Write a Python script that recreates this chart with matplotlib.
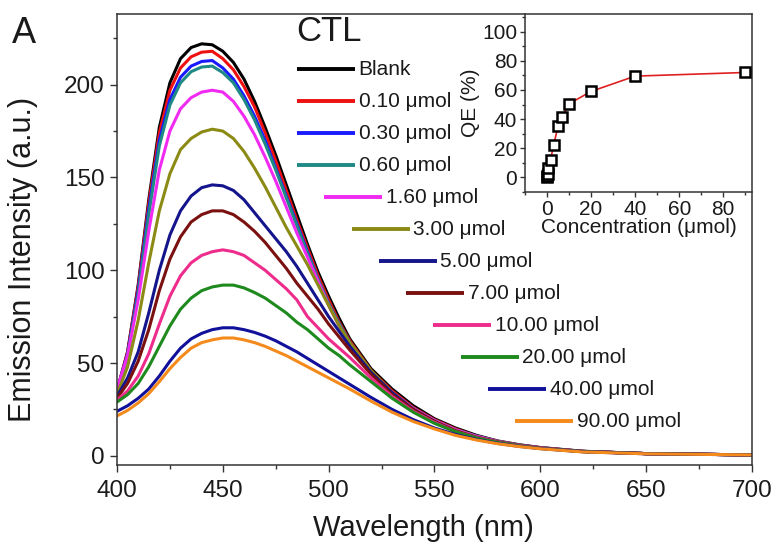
import numpy as np
import matplotlib
matplotlib.use('Agg')
import matplotlib.pyplot as plt
from matplotlib.ticker import MultipleLocator

plt.rcParams['font.family'] = ['Liberation Sans', 'DejaVu Sans']

# emission wavelength grid (nm)
wavelength = [400, 405, 410, 415, 420, 425, 430, 435, 440, 445, 450, 455, 460, 465,
              470, 475, 480, 485, 490, 495, 500, 505, 510, 520, 530, 540, 550, 560,
              570, 580, 590, 600, 620, 650, 700]

# emission intensity (a.u.) of each sample
blank = [35, 56, 92, 138, 177, 201, 214, 220, 222, 221.5, 218, 212, 203, 191,
         177, 162, 146, 130, 114, 99, 86, 74, 63, 47, 36, 27, 20, 15,
         11, 8, 6, 4.5, 2.5, 1.2, 0.5]
c010 = [35, 56, 91, 136, 174, 197, 209, 215, 217.5, 218, 214, 208, 199, 188,
        174, 159, 143, 127, 112, 97, 84, 72, 62, 46, 35, 26, 19.5, 14.5,
        10.5, 7.8, 5.8, 4.4, 2.4, 1.2, 0.5]
c030 = [35, 55, 89, 133, 170, 192, 204, 210, 212.5, 213, 209, 203, 194, 183,
        170, 155, 140, 125, 110, 95, 82, 71, 61, 45, 34, 25.5, 19, 14,
        10.5, 7.7, 5.7, 4.3, 2.4, 1.2, 0.5]
c060 = [34, 54, 87, 130, 167, 189, 201, 207, 209.5, 210, 206.5, 201, 192, 181,
        168, 154, 139, 124, 109, 95, 82, 71, 61, 45, 34, 25.5, 19, 14,
        10.5, 7.7, 5.7, 4.3, 2.4, 1.2, 0.5]
c160 = [36, 54, 84, 121, 154, 175, 187, 193, 196, 197, 196, 191, 183, 173,
        161, 148, 134, 120, 107, 94, 81, 70, 60, 45, 34, 25.5, 19, 14,
        10.5, 7.7, 5.7, 4.3, 2.4, 1.2, 0.5]
c300 = [33, 48, 73, 104, 132, 152, 165, 171, 174.5, 176, 175, 171, 164, 155,
        145, 134, 123, 113, 103, 92, 81, 70, 61, 46, 34, 25, 18.5, 13.5,
        10, 7.5, 5.6, 4.2, 2.4, 1.2, 0.5]
c500 = [32, 42, 56, 77, 100, 119, 132, 140, 144.5, 146, 145.5, 143, 138, 131,
        124, 117, 110, 102, 93, 84, 75, 67, 59, 45, 34, 25, 18.5, 13,
        9.8, 7.3, 5.5, 4.1, 2.3, 1.2, 0.5]
c700 = [31, 39, 51, 68, 89, 106, 118, 126, 130, 132, 132, 130, 126, 121,
        115, 108, 101, 93, 86, 79, 71, 64, 57, 44, 33, 25, 18.5, 13.5,
        10, 7.5, 5.6, 4.2, 2.4, 1.2, 0.5]
c1000 = [30, 35, 43, 55, 71, 86, 97, 104, 108, 110, 111, 110, 108, 104,
         100, 95, 90, 84, 75, 69, 63, 58, 53, 42, 32, 24, 18, 13,
         9.8, 7.3, 5.5, 4.1, 2.3, 1.2, 0.5]
c2000 = [29, 33, 39, 48, 59, 70, 79, 85, 89, 91, 92, 92, 90.5, 88,
         85, 81, 77, 72, 68, 63, 58, 54, 49, 40, 31, 23.5, 17.5, 13,
         9.6, 7.2, 5.4, 4, 2.3, 1.2, 0.5]
c4000 = [24, 27, 31, 36, 43, 51, 58, 63, 66, 68, 69, 69, 68, 66.5,
         64.5, 62, 59, 56, 52.5, 49, 45.5, 42, 38.5, 31.5, 25, 19.5, 15, 11.5,
         8.8, 6.7, 5.1, 3.9, 2.2, 1.1, 0.5]
c9000 = [21.5, 24.5, 28.5, 33.5, 40, 47, 53, 58, 61, 62.5, 63.5, 63.5, 62.5, 61,
         59, 56.5, 54, 51, 48, 45, 42, 39, 36, 29.5, 23.5, 18.5, 14.5, 11,
         8.5, 6.5, 5, 3.8, 2.1, 1.1, 0.5]

spectra = [blank, c010, c030, c060, c160, c300, c500, c700, c1000, c2000, c4000, c9000]
labels = ['Blank', '0.10 μmol', '0.30 μmol', '0.60 μmol', '1.60 μmol', '3.00 μmol',
          '5.00 μmol', '7.00 μmol', '10.00 μmol', '20.00 μmol', '40.00 μmol', '90.00 μmol']
colors = ['#000000', '#ee1111', '#1a1aff', '#1f8a85', '#f02af0', '#8a8a14',
          '#14148c', '#7a1010', '#ee2c8c', '#1e8a1e', '#10109a', '#f58a1c']

# quantum efficiency vs concentration (inset)
conc = [0, 0.1, 0.3, 0.6, 1.6, 3, 5, 7, 10, 20, 40, 90]
qe = [0, 0.8, 2.5, 6.5, 12, 22, 35, 41.5, 50.5, 59, 69.5, 72]

fig = plt.figure(figsize=(7.8, 5.44), dpi=100)
ax = fig.add_axes([0.150, 0.145, 0.814, 0.829])

for y, c in zip(spectra, colors):
    ax.plot(wavelength, y, color=c, lw=2.2, solid_joinstyle='round')

ax.set_xlim(400, 700)
ax.set_ylim(-5, 238)
ax.xaxis.set_major_locator(MultipleLocator(50))
ax.xaxis.set_minor_locator(MultipleLocator(25))
ax.yaxis.set_major_locator(MultipleLocator(50))
ax.yaxis.set_minor_locator(MultipleLocator(25))
ax.tick_params(which='major', direction='out', length=5, width=1, labelsize=17.5,
               colors='#333333', labelcolor='#1a1a1a', pad=4)
ax.tick_params(axis='x', which='major', pad=6)
ax.tick_params(which='minor', direction='out', length=3, width=1, colors='#333333')
for s in ax.spines.values():
    s.set_linewidth(1.1)
    s.set_color('#333333')

ax.set_xlabel('Wavelength (nm)', fontsize=21, color='#1a1a1a')
ax.set_ylabel('Emission Intensity (a.u.)', fontsize=22, color='#1a1a1a')
ax.xaxis.set_label_coords(0.483, -0.108)
ax.yaxis.set_label_coords(-0.125, 0.455)

# staggered key
for i, (lab, c) in enumerate(zip(labels, colors)):
    x0 = (297 + max(0, i - 3) * 27.3 - 117) / 635
    y0 = 1 - (69 + 32 * i - 14) / 451
    ax.plot([x0, x0 + 0.0913], [y0, y0], color=c, lw=2.8, transform=ax.transAxes,
            solid_capstyle='butt')
    ax.text(x0 + 0.097, y0, lab, transform=ax.transAxes, fontsize=15,
            va='center', ha='left', color='#1a1a1a')

ax.text(0.283, 0.961, 'CTL', transform=ax.transAxes, fontsize=25,
        va='center', ha='left', color='#1a1a1a')
fig.text(0.015, 0.939, 'A', fontsize=26, va='center', ha='left', color='#1a1a1a')

# inset: QE
ins = fig.add_axes([0.673, 0.647, 0.291, 0.327])
ins.patch.set_alpha(0)
ins.plot(conc, qe, color='#e02020', lw=1.2, marker='s', ms=7, mfc='white',
         mec='black', mew=1.8)
ins.set_xlim(-10, 93)
ins.set_ylim(-10, 112)
ins.spines['top'].set_visible(False)
ins.spines['right'].set_visible(False)
for s in ['left', 'bottom']:
    ins.spines[s].set_linewidth(1.1)
    ins.spines[s].set_color('#333333')
ins.xaxis.set_major_locator(MultipleLocator(20))
ins.xaxis.set_minor_locator(MultipleLocator(10))
ins.yaxis.set_major_locator(MultipleLocator(20))
ins.yaxis.set_minor_locator(MultipleLocator(10))
ins.set_yticks([0, 20, 40, 60, 80, 100])
ins.tick_params(which='major', direction='out', length=3.5, width=1, labelsize=15,
                colors='#333333', labelcolor='#1a1a1a', pad=2)
ins.tick_params(which='minor', direction='out', length=2, width=1, colors='#333333')
ins.set_xlabel('Concentration (μmol)', fontsize=15, color='#1a1a1a')
ins.set_ylabel('QE (%)', fontsize=15, color='#1a1a1a')
ins.xaxis.set_label_coords(0.5, -0.145)
ins.yaxis.set_label_coords(-0.2, 0.5)

fig.savefig('out.png', dpi=100)
